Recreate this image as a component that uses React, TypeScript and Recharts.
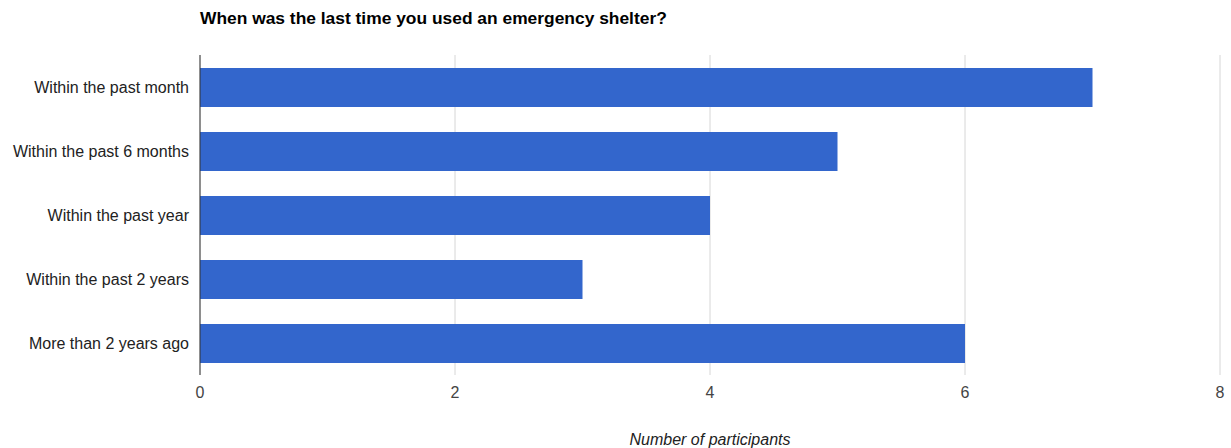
import React from 'react';
import { BarChart, Bar, XAxis, YAxis, CartesianGrid, Label } from 'recharts';

const categories = [
  'Within the past month',
  'Within the past 6 months',
  'Within the past year',
  'Within the past 2 years',
  'More than 2 years ago',
];
const participants = [7, 5, 4, 3, 6];
const xTicks = [0, 2, 4, 6, 8];

const data = categories.map((name, i) => ({ name, value: participants[i] }));

const FONT = '"Liberation Sans", Arial, sans-serif';

export default function App() {
  return (
    <div style={{ position: 'absolute', left: 0, top: 0, width: 1231, height: 448, background: '#fff', fontFamily: FONT }}>
      <div
        style={{
          position: 'absolute',
          left: 200,
          top: 8,
          fontSize: 17.4,
          fontWeight: 'bold',
          color: '#000',
        }}
      >
        When was the last time you used an emergency shelter?
      </div>
      <BarChart
        width={1231}
        height={448}
        data={data}
        layout="vertical"
        margin={{ top: 55, right: 11, left: 0, bottom: 0 }}
        barSize={39}
      >
        <CartesianGrid horizontal={false} stroke="#d6d6d6" />
        <XAxis
          type="number"
          domain={[0, 8]}
          ticks={xTicks}
          axisLine={false}
          tickLine={false}
          height={73}
          tickMargin={6}
          tick={{ fill: '#444', fontSize: 16, fontFamily: FONT }}
        >
          <Label
            value="Number of participants"
            position="insideBottom"
            offset={3}
            style={{ fill: '#222', fontSize: 16, fontStyle: 'italic', fontFamily: FONT }}
          />
        </XAxis>
        <YAxis
          type="category"
          dataKey="name"
          width={200}
          axisLine={{ stroke: '#333' }}
          tickLine={false}
          tickMargin={5}
          tick={{ fill: '#222', fontSize: 16, fontFamily: FONT }}
        />
        <Bar dataKey="value" fill="#3366cc" isAnimationActive={false} />
      </BarChart>
    </div>
  );
}
